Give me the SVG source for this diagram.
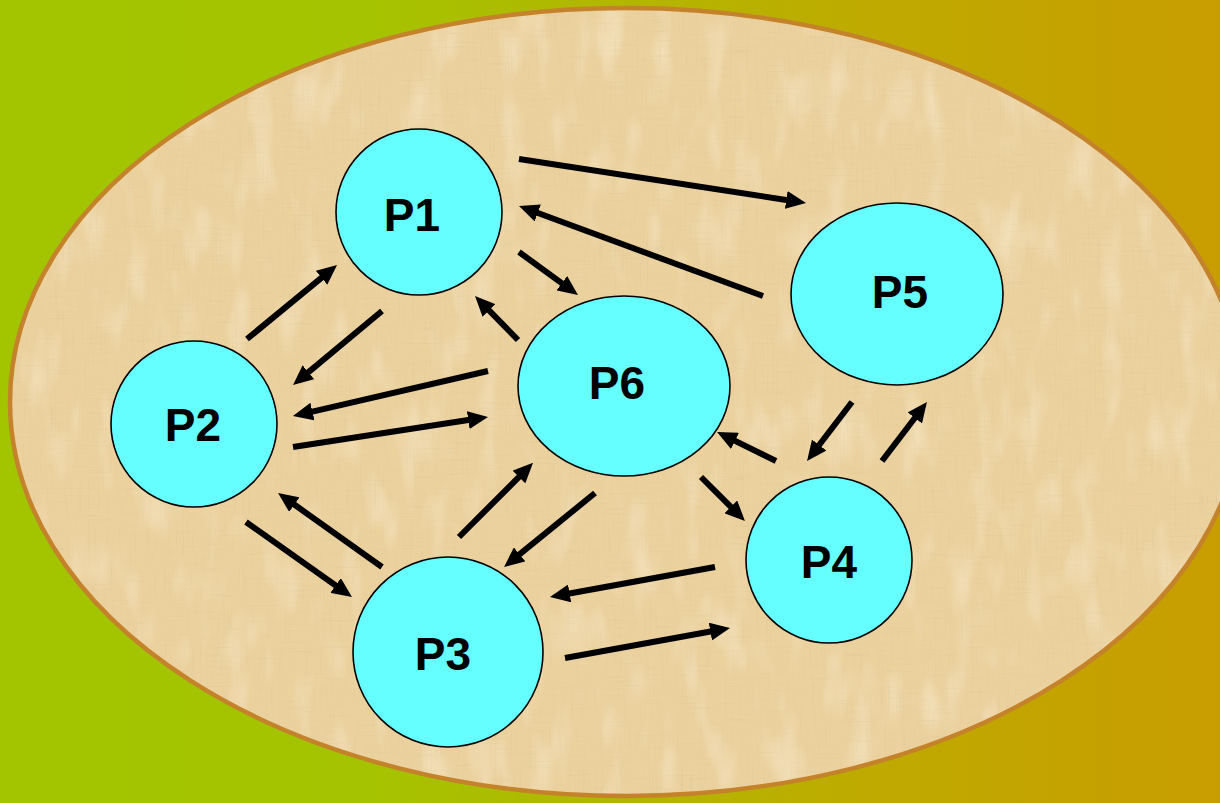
<svg xmlns="http://www.w3.org/2000/svg" width="1220" height="803" viewBox="0 0 1220 803">
  <defs>
    <linearGradient id="bg" x1="0" y1="0" x2="1" y2="0">
      <stop offset="0" stop-color="#a2c500"/>
      <stop offset="0.3" stop-color="#a5c300"/>
      <stop offset="0.72" stop-color="#bfaa00"/>
      <stop offset="1" stop-color="#c89d00"/>
    </linearGradient>
    <filter id="papyrusV" x="0" y="0" width="100%" height="100%">
      <feTurbulence type="fractalNoise" baseFrequency="0.6 0.025" numOctaves="2" seed="4" result="v"/>
      <feColorMatrix in="v" type="matrix" values="0 0 0 0 0.65  0 0 0 0 0.55  0 0 0 0 0.3  0.9 0 0 0 -0.5" result="vc"/>
      <feTurbulence type="fractalNoise" baseFrequency="0.025 0.6" numOctaves="2" seed="9" result="h"/>
      <feColorMatrix in="h" type="matrix" values="0 0 0 0 0.65  0 0 0 0 0.55  0 0 0 0 0.3  0.9 0 0 0 -0.52" result="hc"/>
      <feTurbulence type="fractalNoise" baseFrequency="0.04 0.015" numOctaves="2" seed="2" result="l"/>
      <feColorMatrix in="l" type="matrix" values="0 0 0 0 1  0 0 0 0 0.93  0 0 0 0 0.78  1.0 0 0 0 -0.52" result="lc"/>
      <feMerge result="m">
        <feMergeNode in="lc"/>
        <feMergeNode in="vc"/>
        <feMergeNode in="hc"/>
      </feMerge>
      <feComposite in="m" in2="SourceAlpha" operator="in"/>
    </filter>
    <marker id="arr" markerUnits="userSpaceOnUse" markerWidth="20" markerHeight="18" viewBox="0 0 20 18" refX="10" refY="9" orient="auto">
      <path d="M0,0 L20,9 L0,18 z" fill="#000"/>
    </marker>
    <style>
      .node { fill: #66ffff; stroke: #000; stroke-width: 1.6; }
      .lbl { font-family: "Liberation Sans", Arial, sans-serif; font-weight: bold; font-size: 46px; fill: #000; text-anchor: middle; }
      .edge { stroke: #000; stroke-width: 6; fill: none; marker-end: url(#arr); }
    </style>
  </defs>

  <rect x="0" y="0" width="1220" height="803" fill="url(#bg)"/>
  <g id="papyrus-frame">
    <ellipse cx="626" cy="402" rx="616" ry="394" fill="#ebd19e"/>
    <ellipse cx="626" cy="402" rx="616" ry="394" fill="#000" filter="url(#papyrusV)"/>
    <ellipse cx="626" cy="402" rx="616" ry="394" fill="none" stroke="#c4822a" stroke-width="4.5"/>
  </g>

  <g id="connectors">
    <line class="edge" x1="519" y1="159" x2="796.1" y2="201.5"/>
    <line class="edge" x1="763" y1="296" x2="528.4" y2="209.5"/>
    <line class="edge" x1="519" y1="252" x2="569.9" y2="289.1"/>
    <line class="edge" x1="518" y1="340" x2="482.0" y2="303.2"/>
    <line class="edge" x1="247" y1="339" x2="329.3" y2="271.4"/>
    <line class="edge" x1="382" y1="311" x2="300.7" y2="378.6"/>
    <line class="edge" x1="488" y1="371" x2="302.7" y2="413.8"/>
    <line class="edge" x1="293" y1="447" x2="478.1" y2="418.5"/>
    <line class="edge" x1="382" y1="567" x2="286.2" y2="498.8"/>
    <line class="edge" x1="246" y1="522" x2="343.8" y2="591.2"/>
    <line class="edge" x1="459" y1="537" x2="526.0" y2="469.9"/>
    <line class="edge" x1="595" y1="493" x2="511.8" y2="560.7"/>
    <line class="edge" x1="701" y1="477" x2="737.9" y2="513.9"/>
    <line class="edge" x1="776" y1="461" x2="726.0" y2="436.4"/>
    <line class="edge" x1="852" y1="402" x2="813.1" y2="453.0"/>
    <line class="edge" x1="882" y1="461" x2="920.9" y2="410.0"/>
    <line class="edge" x1="715" y1="567" x2="559.8" y2="595.2"/>
    <line class="edge" x1="565" y1="658" x2="720.2" y2="629.8"/>
  </g>

  <g id="P1">
    <circle class="node" cx="419" cy="212" r="83"/>
    <text class="lbl" x="412" y="231">P1</text>
  </g>
  <g id="P2">
    <circle class="node" cx="194" cy="424" r="83"/>
    <text class="lbl" x="193" y="441">P2</text>
  </g>
  <g id="P3">
    <circle class="node" cx="448" cy="652" r="95"/>
    <text class="lbl" x="443" y="670">P3</text>
  </g>
  <g id="P4">
    <circle class="node" cx="829" cy="560" r="83"/>
    <text class="lbl" x="829" y="578">P4</text>
  </g>
  <g id="P5">
    <ellipse class="node" cx="897" cy="294" rx="106" ry="91"/>
    <text class="lbl" x="900" y="308">P5</text>
  </g>
  <g id="P6">
    <ellipse class="node" cx="624" cy="386" rx="106" ry="90"/>
    <text class="lbl" x="617" y="399">P6</text>
  </g>
</svg>
